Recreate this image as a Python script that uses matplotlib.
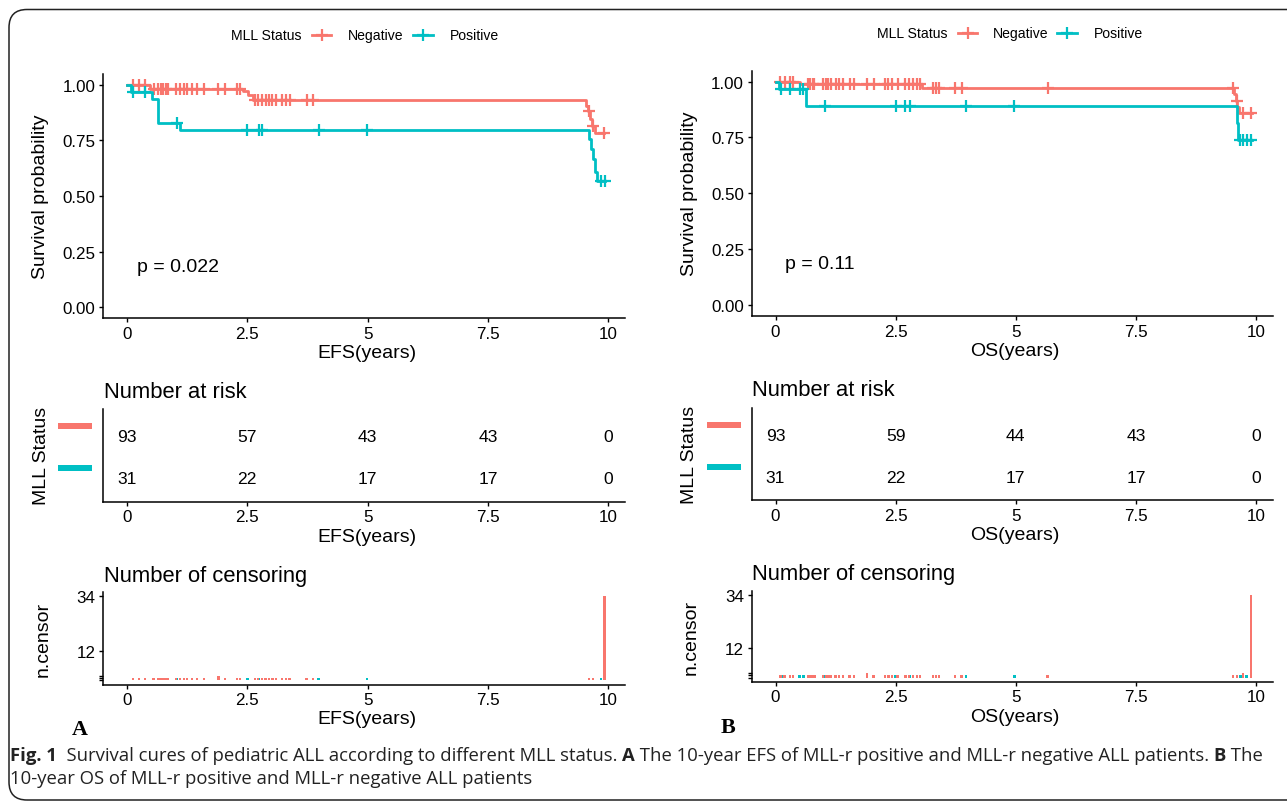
import matplotlib
matplotlib.use('Agg')
import matplotlib.pyplot as plt
import numpy as np
from matplotlib.patches import FancyBboxPatch
from matplotlib.lines import Line2D
from matplotlib.transforms import IdentityTransform

plt.rcParams['font.family'] = 'Liberation Sans'

RED = '#F8766D'
TEAL = '#00BFC4'

W, H = 1287, 803
PT = 0.72  # points per pixel (dpi 100)

# ---- data ----
xticks = [0, 2.5, 5, 7.5, 10]
xtick_labels = ['0', '2.5', '5', '7.5', '10']
risk_times = [0, 2.5, 5, 7.5, 10]

# A: EFS
efs_neg_t = [0, 0.48, 2.42, 2.52, 2.62, 9.54, 9.58, 9.62, 9.66, 9.72]
efs_neg_s = [1.0, 0.979, 0.97, 0.955, 0.93, 0.905, 0.88, 0.845, 0.815, 0.785]
efs_neg_end = 9.92
efs_neg_cens = [0.12, 0.25, 0.37, 0.55, 0.65, 0.7, 0.75, 0.8, 0.85, 1.02, 1.1, 1.18,
                1.25, 1.35, 1.45, 1.6, 1.9, 1.9, 2.03, 2.28, 2.35, 2.66, 2.72, 2.8,
                2.88, 2.95, 3.02, 3.1, 3.22, 3.3, 3.38, 3.73, 3.86, 9.6, 9.68] + [9.92] * 34

efs_pos_t = [0, 0.08, 0.51, 0.64, 1.1, 9.6, 9.64, 9.68, 9.72, 9.76]
efs_pos_s = [1.0, 0.968, 0.935, 0.83, 0.797, 0.755, 0.71, 0.665, 0.61, 0.568]
efs_pos_end = 9.94
efs_pos_cens = [0.12, 0.37, 1.04, 2.5, 2.74, 2.81, 3.98, 4.99, 9.85] + [9.93] * 12

efs_risk_neg = [93, 57, 43, 43, 0]
efs_risk_pos = [31, 22, 17, 17, 0]
efs_p = 'p = 0.022'

# B: OS
os_neg_t = [0, 0.5, 3.05, 9.53, 9.57, 9.61, 9.65]
os_neg_s = [1.0, 0.989, 0.972, 0.945, 0.915, 0.888, 0.86]
os_neg_end = 9.92
os_neg_cens = [0.1, 0.19, 0.3, 0.36, 0.67, 0.72, 0.77, 0.81, 0.99, 1.05, 1.1, 1.15,
               1.25, 1.32, 1.4, 1.54, 1.63, 1.9, 1.9, 2.04, 2.28, 2.35, 2.42, 2.54,
               2.7, 2.78, 2.86, 2.94, 3.0, 3.27, 3.34, 3.4, 3.74, 3.87, 5.66, 9.52,
               9.6, 9.73, 9.73] + [9.89] * 34

os_pos_t = [0, 0.08, 0.64, 9.6, 9.63]
os_pos_s = [1.0, 0.966, 0.889, 0.815, 0.74]
os_pos_end = 9.92
os_pos_cens = [0.12, 0.3, 0.5, 0.58, 1.03, 2.5, 2.7, 2.8, 3.96, 4.97, 9.67, 9.72,
               9.8] + [9.89] * 12

os_risk_neg = [93, 59, 44, 43, 0]
os_risk_pos = [31, 22, 17, 17, 0]
os_p = 'p = 0.11'

caption_1 = [('Fig. 1', True),
             ('  Survival cures of pediatric ALL according to different MLL status. ', False),
             ('A', True),
             (' The 10-year EFS of MLL-r positive and MLL-r negative ALL patients. ', False),
             ('B', True), (' The', False)]
caption_2 = [('10-year OS of MLL-r positive and MLL-r negative ALL patients', False)]

fig = plt.figure(figsize=(W / 100, H / 100), dpi=100)


def px_rect(l, t, r, b):
    return [l / W, 1 - b / H, (r - l) / W, (b - t) / H]


def ftext(x, y, s, **kw):
    return fig.text(x / W, 1 - y / H, s, **kw)


def style(ax):
    for side in ['top', 'right']:
        ax.spines[side].set_visible(False)
    for side in ['left', 'bottom']:
        ax.spines[side].set_linewidth(1.1)
    ax.tick_params(length=4 * PT, width=1.0, labelsize=17 * PT, pad=2.6, colors='black')
    ax.set_xlim(-0.5, 10.35)
    ax.set_xticks(xticks)
    ax.set_xticklabels(xtick_labels)
    ax.patch.set_alpha(0)


def surv_at(t_steps, s_steps, t):
    idx = np.searchsorted(t_steps, t, side='right') - 1
    return np.array(s_steps)[idx]


def km(rect, curves, pval):
    ax = fig.add_axes(px_rect(*rect))
    style(ax)
    for t_steps, s_steps, t_end, cens, color in curves:
        ax.step(list(t_steps) + [t_end], list(s_steps) + [s_steps[-1]], where='post',
                color=color, lw=2.0)
        ct = np.unique(cens)
        ax.plot(ct, surv_at(t_steps, s_steps, ct), ls='none', marker='+', ms=8,
                mew=1.6, color=color)
    ax.set_ylim(-0.05, 1.05)
    ax.set_yticks([0, 0.25, 0.5, 0.75, 1.0])
    ax.set_yticklabels(['0.00', '0.25', '0.50', '0.75', '1.00'])
    ax.text(0.2, 0.165, pval, fontsize=19.5 * PT, va='baseline', ha='left')
    return ax


def risk(rect, neg, pos):
    ax = fig.add_axes(px_rect(*rect))
    style(ax)
    ax.set_ylim(0.4, 2.6)
    ax.set_yticks([])
    for row, vals in [(2, neg), (1, pos)]:
        for t, v in zip(risk_times, vals):
            ax.text(t, row - 0.06, str(v), ha='center', va='center', fontsize=17.5 * PT)
    tr = ax.get_yaxis_transform()
    for row, color in [(2.19, RED), (1.19, TEAL)]:
        ax.plot([-0.086, -0.021], [row, row], color=color, lw=6 * PT, transform=tr,
                clip_on=False, solid_capstyle='butt')
    return ax


def ncensor(rect, curves):
    ax = fig.add_axes(px_rect(*rect))
    style(ax)
    for cens, color in curves:
        tu, nu = np.unique(cens, return_counts=True)
        ax.bar(tu, nu, width=0.05, color=color, linewidth=0)
    ax.set_ylim(-1.7, 35.7)
    ax.set_yticks([0, 1, 2, 12, 34])
    ax.set_yticklabels(['', '', '', '12', '34'])
    return ax


def legend(y, x_title, key_red, x_neg, key_teal, x_pos):
    fs = 14 * PT
    ftext(x_title, y, 'MLL Status', fontsize=fs, va='center', ha='left')
    for (x1, x2), color in [(key_red, RED), (key_teal, TEAL)]:
        fig.add_artist(Line2D([x1 / W, x2 / W], [1 - y / H] * 2, color=color, lw=2.0))
        fig.add_artist(Line2D([(x1 + x2) / 2 / W], [1 - y / H], color=color, marker='+',
                              ms=8, mew=1.6, ls='none'))
    ftext(x_neg, y, 'Negative', fontsize=fs, va='center', ha='left')
    ftext(x_pos, y, 'Positive', fontsize=fs, va='center', ha='left')


def panel(dx, dy, neg_t, neg_s, neg_end, neg_c, pos_t, pos_s, pos_end, pos_c,
          rneg, rpos, pval, xlab, letter, top_rect, risk_rect, cens_rect):
    km(top_rect, [(neg_t, neg_s, neg_end, neg_c, RED),
                  (pos_t, pos_s, pos_end, pos_c, TEAL)], pval)
    risk(risk_rect, rneg, rpos)
    ncensor(cens_rect, [(pos_c, TEAL), (neg_c, RED)])
    xc = (top_rect[0] + top_rect[2]) / 2 + 3
    axfs = 19.5 * PT
    ftext(41 + dx, (top_rect[1] + top_rect[3]) / 2, 'Survival probability', fontsize=axfs,
          rotation=90, ha='center', va='center')
    ftext(xc, 354 + dy, xlab, fontsize=axfs, ha='center', va='center')
    ftext(top_rect[0] + 1, 398 + dy, 'Number at risk', fontsize=22 * PT, ha='left',
          va='baseline')
    ftext(41 + dx, (risk_rect[1] + risk_rect[3]) / 2, 'MLL Status', fontsize=axfs,
          rotation=90, ha='center', va='center')
    ftext(xc, 538 + dy, xlab, fontsize=axfs, ha='center', va='center')
    ftext(top_rect[0] + 1, 582 + dy, 'Number of censoring', fontsize=22 * PT, ha='left',
          va='baseline')
    ftext(43 + dx, (cens_rect[1] + cens_rect[3]) / 2, 'n.censor', fontsize=axfs,
          rotation=90, ha='center', va='center')
    ftext(xc, 720 + dy, xlab, fontsize=axfs, ha='center', va='center')
    ftext(80 + dx, 735 + dy, letter, fontsize=22 * PT, family='Liberation Serif',
          weight='bold', ha='center', va='baseline')


panel(0, 0, efs_neg_t, efs_neg_s, efs_neg_end, efs_neg_cens,
      efs_pos_t, efs_pos_s, efs_pos_end, efs_pos_cens,
      efs_risk_neg, efs_risk_pos, efs_p, 'EFS(years)', 'A',
      (103, 74.6, 625, 319.4), (103, 410, 625, 502.7), (103, 593, 625, 685.7))
legend(36, 231, (312, 331), 348, (413, 433), 450)

panel(648, -2, os_neg_t, os_neg_s, os_neg_end, os_neg_cens,
      os_pos_t, os_pos_s, os_pos_end, os_pos_cens,
      os_risk_neg, os_risk_pos, os_p, 'OS(years)', 'B',
      (751.5, 71.5, 1273, 316.9), (751.5, 408.8, 1273, 501.2), (751.5, 591.7, 1273, 682.7))
legend(34, 877, (958, 977), 993, (1057, 1077), 1094)

# caption: bold / regular runs laid out one after another
renderer = fig.canvas.get_renderer()


def run_width(s, bold, fs):
    t = ftext(0, 0, s + '|', fontsize=fs, family='Open Sans',
              weight='bold' if bold else 'normal')
    bar = ftext(0, 0, '|', fontsize=fs, family='Open Sans',
                weight='bold' if bold else 'normal')
    w = t.get_window_extent(renderer).width - bar.get_window_extent(renderer).width
    t.remove()
    bar.remove()
    return w


base_fs = 12.0
line_w = sum(run_width(s, b, base_fs) for s, b in caption_1)
cap_fs = base_fs * (1260 - 10) / line_w


def caption_line(x, y, runs):
    for s, bold in runs:
        ftext(x, y, s, fontsize=cap_fs, family='Open Sans', weight='bold' if bold else 'normal',
              va='baseline', ha='left', color='#222222')
        x += run_width(s, bold, cap_fs)


caption_line(10, 761, caption_1)
caption_line(10, 784, caption_2)

# rounded frame
fig.add_artist(FancyBboxPatch((9, 2), 1320, H - 2 - 10.5,
                              boxstyle='round,pad=0,rounding_size=18',
                              transform=IdentityTransform(), fill=False,
                              edgecolor='#222222', linewidth=1.1))

fig.savefig('out.png', dpi=100)
